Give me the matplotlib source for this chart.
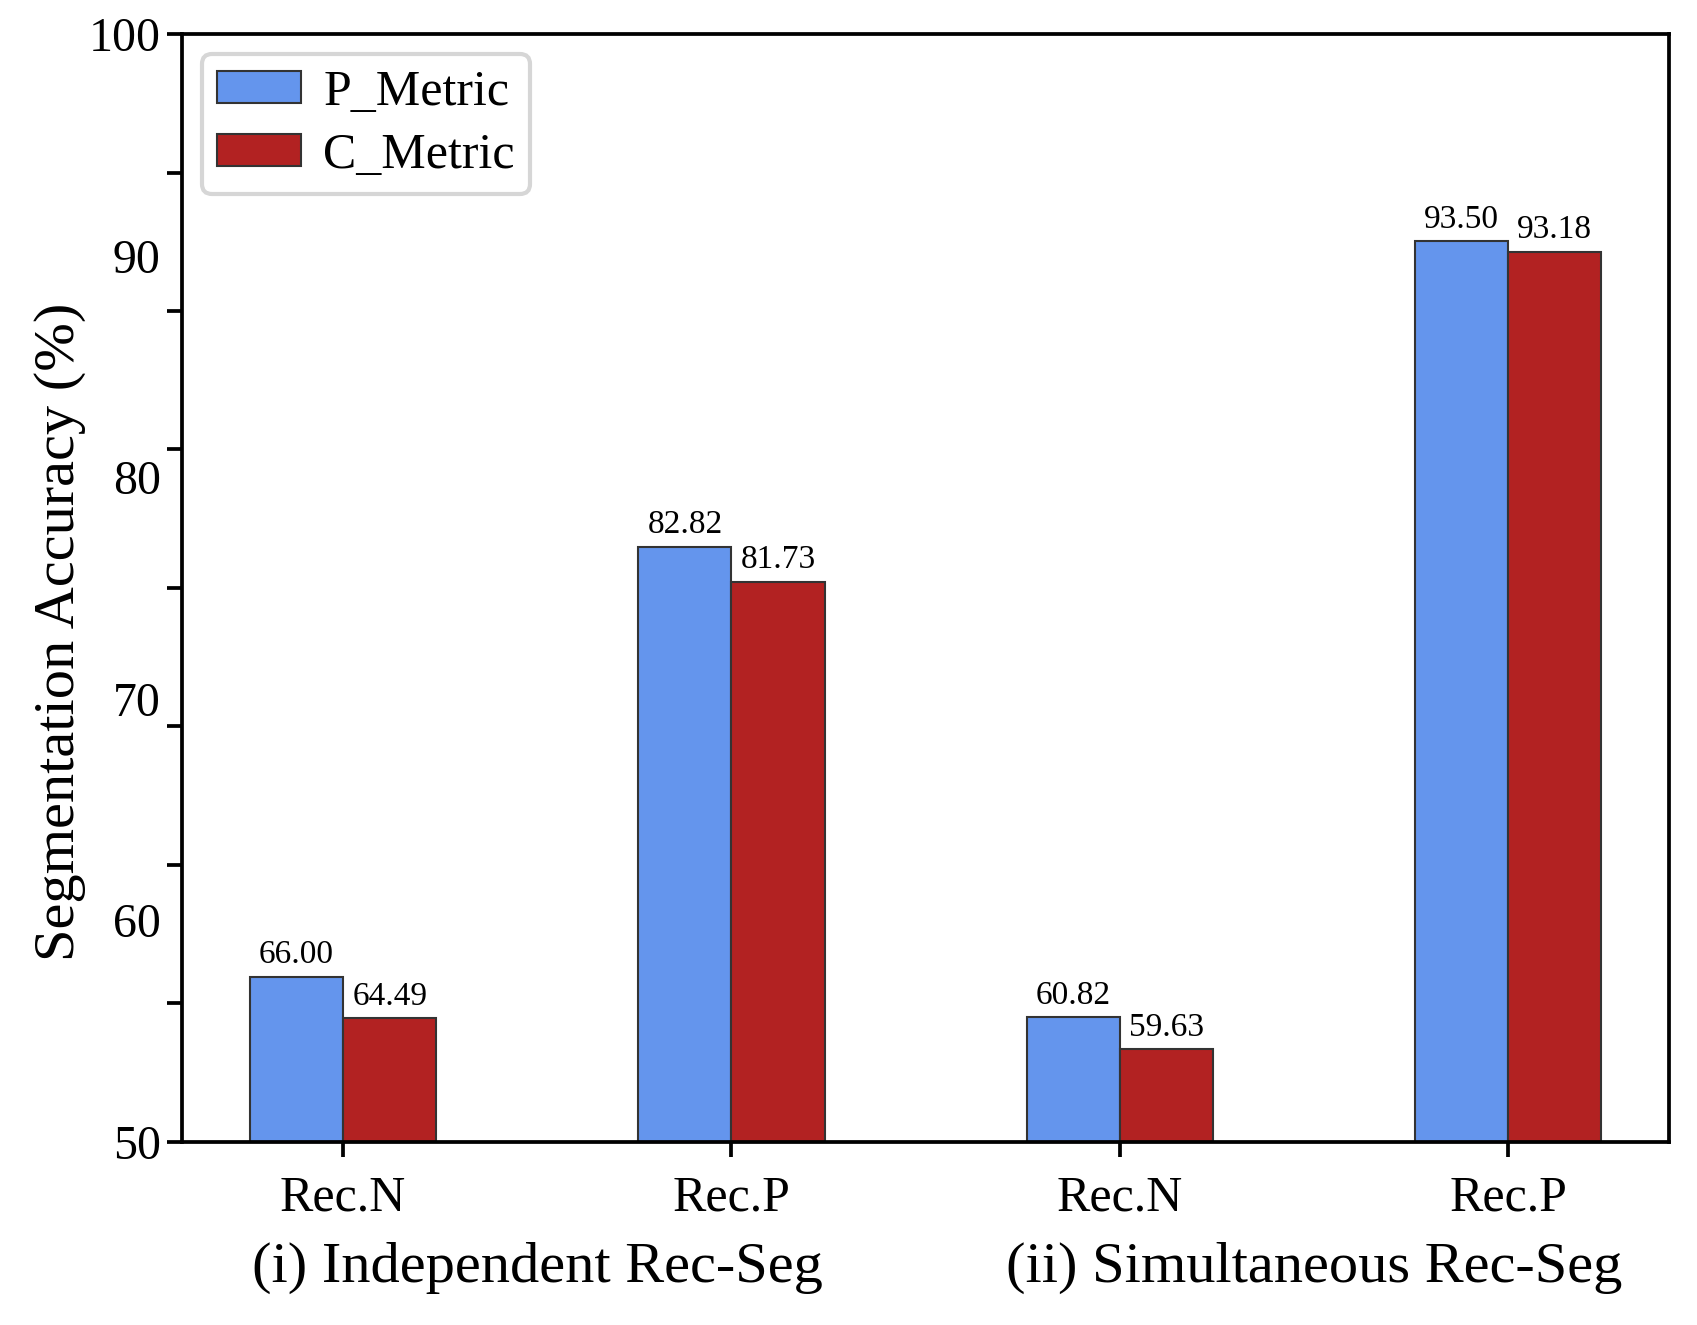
import matplotlib
matplotlib.use("Agg")
import matplotlib.pyplot as plt
import numpy as np

plt.rcParams['font.family'] = ['Liberation Serif', 'DejaVu Serif']

categories = ["Rec.N", "Rec.P", "Rec.N", "Rec.P"]
groups = ["(i) Independent Rec-Seg", "(ii) Simultaneous Rec-Seg"]
series_names = ["P_Metric", "C_Metric"]
# bar heights as drawn (on the axis scale)
p_heights = [57.45, 76.86, 55.62, 90.66]
c_heights = [55.57, 75.28, 54.17, 90.18]
# value labels printed above bars
p_labels = ["66.00", "82.82", "60.82", "93.50"]
c_labels = ["64.49", "81.73", "59.63", "93.18"]
ytick_marks = list(np.linspace(50, 100, 9))
ytick_labels = [50, 60, 70, 80, 90, 100]

fig = plt.figure(figsize=(1697/300, 1325/300), dpi=300)
ax = fig.add_axes([0.107, 0.1383, 0.8765, 0.836])

x = np.arange(len(categories))
w = 0.24
ax.bar(x - w/2, [h - 50 for h in p_heights], w, bottom=50, color='#6495ED',
       edgecolor='#333333', linewidth=0.5, label=series_names[0])
ax.bar(x + w/2, [h - 50 for h in c_heights], w, bottom=50, color='#B22222',
       edgecolor='#333333', linewidth=0.5, label=series_names[1])

for xi, h, lab in zip(x - w/2, p_heights, p_labels):
    ax.annotate(lab, (xi, h), xytext=(0, 1.5), textcoords='offset points',
                ha='center', va='bottom', fontsize=8)
for xi, h, lab in zip(x + w/2, c_heights, c_labels):
    ax.annotate(lab, (xi, h), xytext=(0, 1.5), textcoords='offset points',
                ha='center', va='bottom', fontsize=8)

ax.set_xlim(-0.416, 3.414)
ax.set_ylim(50, 100)
ax.set_xticks(x)
ax.set_xticklabels(categories, fontsize=12)
ax.set_yticks(ytick_marks)
ax.set_yticklabels([])
ax.tick_params(axis='both', direction='out', length=3.5, width=0.9)
ax.tick_params(axis='x', pad=4.5)
for s in ax.spines.values():
    s.set_linewidth(0.9)

sec = ax.secondary_yaxis('left')
sec.set_yticks(ytick_labels)
sec.set_yticklabels([str(v) for v in ytick_labels], fontsize=11.5)
sec.tick_params(length=0, pad=5)
sec.spines['left'].set_visible(False)

ax.set_ylabel("Segmentation Accuracy (%)", fontsize=14)
ax.yaxis.set_label_coords(-0.064, 0.46)

trans = matplotlib.transforms.blended_transform_factory(ax.transData, ax.transAxes)
ax.text((x[0] + x[1]) / 2, -0.114, groups[0], transform=trans, ha='center', va='center', fontsize=14)
ax.text((x[2] + x[3]) / 2, -0.114, groups[1], transform=trans, ha='center', va='center', fontsize=14)

ax.legend(loc='upper left', fontsize=12, borderaxespad=0.4, borderpad=0.3, handlelength=1.68,
          handleheight=0.6, handletextpad=0.45, labelspacing=0.33)

fig.savefig("out.png", dpi=300)
